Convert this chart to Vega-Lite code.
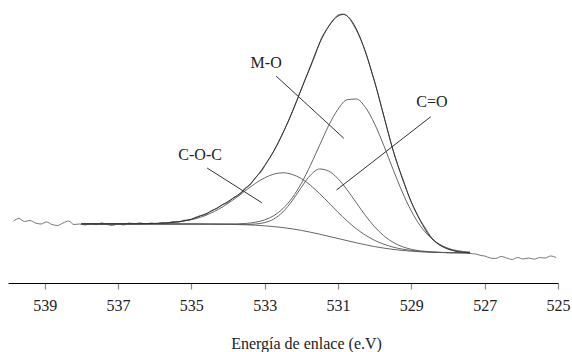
{
  "$schema": "https://vega.github.io/schema/vega-lite/v6.json",
  "width": 550,
  "height": 283,
  "autosize": {"type": "none"},
  "padding": {"left": 8, "top": 0, "right": 14, "bottom": 69},
  "background": "white",
  "config": {"view": {"stroke": null}, "font": "Liberation Serif, Times New Roman, serif"},
  "datasets": {
    "raw": [
      {"be":539.85,"i":62},{"be":539.7,"i":64.5},{"be":539.55,"i":61.5},{"be":539.4,"i":62.5},{"be":539.25,"i":60},{"be":539.1,"i":59},{"be":538.95,"i":61},{"be":538.8,"i":58.5},{"be":538.65,"i":57.5},{"be":538.5,"i":60},{"be":538.35,"i":62},{"be":538.2,"i":58.5},{"be":538.05,"i":59},{"be":537.9,"i":58},{"be":537.75,"i":59.5},{"be":537.6,"i":58.2},{"be":537.45,"i":60},{"be":537.3,"i":58.5},{"be":537.15,"i":57.5},{"be":537.0,"i":59.5},{"be":536.85,"i":58},{"be":536.7,"i":60},{"be":536.55,"i":59.2},{"be":536.4,"i":60.2},{"be":536.25,"i":59},{"be":536.1,"i":60},{"be":535.95,"i":59.2},{"be":535.8,"i":60.5},{"be":535.65,"i":60},{"be":535.5,"i":61.5},{"be":535.35,"i":61},{"be":535.2,"i":62.8},{"be":535.05,"i":63},{"be":534.9,"i":65.5},{"be":534.75,"i":67.5},{"be":534.6,"i":68.5},{"be":534.45,"i":72.5},{"be":534.3,"i":74.5},{"be":534.15,"i":78.5},{"be":534.0,"i":80.5},{"be":533.85,"i":85.5},{"be":533.7,"i":87.5},{"be":533.55,"i":94.5},{"be":533.4,"i":98},{"be":533.25,"i":105.5},{"be":533.1,"i":111},{"be":532.95,"i":120},{"be":532.8,"i":129},{"be":532.65,"i":139},{"be":532.5,"i":150.5},{"be":532.35,"i":162},{"be":532.2,"i":175},{"be":532.05,"i":189},{"be":531.9,"i":203},{"be":531.75,"i":216},{"be":531.6,"i":230},{"be":531.45,"i":245},{"be":531.3,"i":254},{"be":531.15,"i":262},{"be":531.0,"i":268},{"be":530.85,"i":269},{"be":530.7,"i":265},{"be":530.55,"i":256},{"be":530.4,"i":245},{"be":530.25,"i":231},{"be":530.1,"i":213},{"be":529.95,"i":195},{"be":529.8,"i":174},{"be":529.65,"i":153},{"be":529.5,"i":133},{"be":529.35,"i":116},{"be":529.2,"i":101},{"be":529.05,"i":85},{"be":528.9,"i":73},{"be":528.75,"i":62.5},{"be":528.6,"i":54},{"be":528.45,"i":45.5},{"be":528.3,"i":40},{"be":528.15,"i":36.5},{"be":528.0,"i":34},{"be":527.85,"i":32.5},{"be":527.7,"i":31},{"be":527.55,"i":30.5},{"be":527.4,"i":29.5},{"be":527.25,"i":29},{"be":527.1,"i":27.5},{"be":527.0,"i":27},{"be":526.85,"i":25},{"be":526.7,"i":24.5},{"be":526.55,"i":26.5},{"be":526.4,"i":25},{"be":526.25,"i":23.5},{"be":526.1,"i":25.5},{"be":525.95,"i":24},{"be":525.8,"i":25},{"be":525.65,"i":23.8},{"be":525.5,"i":25.5},{"be":525.35,"i":25},{"be":525.2,"i":27},{"be":525.05,"i":25.5}
    ],
    "env": [
      {"be":538,"i":59.2},{"be":537.5,"i":59.2},{"be":537,"i":59.2},{"be":536.5,"i":59.3},{"be":536,"i":59.6},{"be":535.5,"i":60.6},{"be":535.25,"i":61.8},{"be":535,"i":63.8},{"be":534.75,"i":67},{"be":534.5,"i":71},{"be":534.25,"i":76},{"be":534,"i":81.5},{"be":533.75,"i":87.5},{"be":533.5,"i":95},{"be":533.25,"i":105},{"be":533,"i":117.5},{"be":532.75,"i":132},{"be":532.5,"i":150},{"be":532.25,"i":171},{"be":532,"i":194},{"be":531.75,"i":217},{"be":531.5,"i":240},{"be":531.25,"i":257},{"be":531,"i":267},{"be":530.85,"i":268.5},{"be":530.75,"i":267},{"be":530.5,"i":254},{"be":530.25,"i":231},{"be":530,"i":201},{"be":529.75,"i":167},{"be":529.5,"i":133},{"be":529.25,"i":105},{"be":529,"i":81},{"be":528.75,"i":62},{"be":528.5,"i":47},{"be":528.25,"i":38.5},{"be":528,"i":34},{"be":527.75,"i":31.5},{"be":527.4,"i":30.3}
    ],
    "comps": [
      {"s":"bg","be":538,"i":59},{"s":"bg","be":537,"i":59},{"s":"bg","be":536,"i":59},{"s":"bg","be":535,"i":59},{"s":"bg","be":534.5,"i":58.9},{"s":"bg","be":534,"i":58.7},{"s":"bg","be":533.5,"i":58.2},{"s":"bg","be":533,"i":57.2},{"s":"bg","be":532.5,"i":55.4},{"s":"bg","be":532,"i":52.6},{"s":"bg","be":531.5,"i":48.8},{"s":"bg","be":531,"i":44.5},{"s":"bg","be":530.5,"i":40.2},{"s":"bg","be":530,"i":36.4},{"s":"bg","be":529.5,"i":33.6},{"s":"bg","be":529,"i":31.8},{"s":"bg","be":528.5,"i":30.8},{"s":"bg","be":528,"i":30.3},{"s":"bg","be":527.4,"i":30.1},
      {"s":"MO","be":538,"i":59},{"s":"MO","be":536,"i":59},{"s":"MO","be":535,"i":59},{"s":"MO","be":534.5,"i":58.9},{"s":"MO","be":534,"i":59.0},{"s":"MO","be":533.75,"i":59.1},{"s":"MO","be":533.5,"i":59.6},{"s":"MO","be":533.25,"i":60.8},{"s":"MO","be":533,"i":63.1},{"s":"MO","be":532.75,"i":67.4},{"s":"MO","be":532.5,"i":74.5},{"s":"MO","be":532.25,"i":85.1},{"s":"MO","be":532,"i":99.7},{"s":"MO","be":531.75,"i":117.8},{"s":"MO","be":531.5,"i":137.9},{"s":"MO","be":531.25,"i":157.7},{"s":"MO","be":531,"i":173.8},{"s":"MO","be":530.75,"i":183.3},{"s":"MO","be":530.5,"i":184.0},{"s":"MO","be":530.25,"i":175.5},{"s":"MO","be":530,"i":159.0},{"s":"MO","be":529.75,"i":137.4},{"s":"MO","be":529.5,"i":113.8},{"s":"MO","be":529.25,"i":91.3},{"s":"MO","be":529,"i":72.0},{"s":"MO","be":528.75,"i":56.9},{"s":"MO","be":528.5,"i":46.3},{"s":"MO","be":528.25,"i":39.2},{"s":"MO","be":528,"i":34.8},{"s":"MO","be":527.75,"i":32.4},{"s":"MO","be":527.4,"i":30.9},
      {"s":"CO","be":538,"i":59},{"s":"CO","be":536,"i":59},{"s":"CO","be":535,"i":59},{"s":"CO","be":534.5,"i":58.9},{"s":"CO","be":534,"i":58.7},{"s":"CO","be":533.5,"i":58.6},{"s":"CO","be":533.25,"i":59.0},{"s":"CO","be":533,"i":60.4},{"s":"CO","be":532.75,"i":64.0},{"s":"CO","be":532.5,"i":71.2},{"s":"CO","be":532.25,"i":82.2},{"s":"CO","be":532,"i":95.7},{"s":"CO","be":531.75,"i":107.9},{"s":"CO","be":531.5,"i":114.0},{"s":"CO","be":531.25,"i":111.8},{"s":"CO","be":531,"i":104.3},{"s":"CO","be":530.75,"i":93.1},{"s":"CO","be":530.5,"i":80.2},{"s":"CO","be":530.25,"i":67.4},{"s":"CO","be":530,"i":56.1},{"s":"CO","be":529.75,"i":47.2},{"s":"CO","be":529.5,"i":40.7},{"s":"CO","be":529.25,"i":36.4},{"s":"CO","be":529,"i":33.7},{"s":"CO","be":528.75,"i":32.1},{"s":"CO","be":528.5,"i":31.2},{"s":"CO","be":528,"i":30.4},{"s":"CO","be":527.4,"i":30.1},
      {"s":"COC","be":538,"i":59},{"s":"COC","be":537,"i":59},{"s":"COC","be":536.5,"i":59.1},{"s":"COC","be":536,"i":59.4},{"s":"COC","be":535.5,"i":60.5},{"s":"COC","be":535,"i":63.3},{"s":"COC","be":534.75,"i":65.7},{"s":"COC","be":534.5,"i":69.3},{"s":"COC","be":534.25,"i":73.9},{"s":"COC","be":534,"i":79.6},{"s":"COC","be":533.75,"i":86.1},{"s":"COC","be":533.5,"i":93.0},{"s":"COC","be":533.25,"i":99.7},{"s":"COC","be":533,"i":105.2},{"s":"COC","be":532.75,"i":108.9},{"s":"COC","be":532.5,"i":110.2},{"s":"COC","be":532.25,"i":108.6},{"s":"COC","be":532,"i":104.4},{"s":"COC","be":531.75,"i":97.7},{"s":"COC","be":531.5,"i":89.3},{"s":"COC","be":531.25,"i":80.1},{"s":"COC","be":531,"i":70.7},{"s":"COC","be":530.75,"i":62.0},{"s":"COC","be":530.5,"i":54.2},{"s":"COC","be":530.25,"i":47.8},{"s":"COC","be":530,"i":42.6},{"s":"COC","be":529.75,"i":38.8},{"s":"COC","be":529.5,"i":35.9},{"s":"COC","be":529.25,"i":33.9},{"s":"COC","be":529,"i":32.5},{"s":"COC","be":528.75,"i":31.6},{"s":"COC","be":528.5,"i":31.0},{"s":"COC","be":528,"i":30.3},{"s":"COC","be":527.4,"i":30.1}
    ],
    "leaders": [
      {"be":532.69,"i":207,"be2":530.84,"i2":144.7},
      {"be":528.47,"i":166.3,"be2":531.04,"i2":93},
      {"be":534.57,"i":115,"be2":533.08,"i2":80.3}
    ],
    "labels": [
      {"label":"M-O","be":532.96,"i":220},
      {"label":"C=O","be":528.44,"i":181},
      {"label":"C-O-C","be":534.76,"i":128}
    ]
  },
  "encoding": {
    "x": {
      "field": "be", "type": "quantitative",
      "scale": {"domain": [525, 540], "reverse": true, "nice": false, "zero": false},
      "axis": {
        "values": [539, 537, 535, 533, 531, 529, 527, 525],
        "format": "d",
        "title": "Energía de enlace (e.V)",
        "grid": false,
        "domainColor": "#000", "domainWidth": 1.1,
        "tickColor": "#888", "tickSize": 6, "tickWidth": 1.2,
        "labelFont": "Liberation Serif, Times New Roman, serif", "labelFontSize": 16, "labelColor": "#222",
        "labelBaseline": "alphabetic", "labelPadding": 21,
        "labelFlush": false, "labelOverlap": false,
        "titleFont": "Liberation Serif, Times New Roman, serif", "titleFontSize": 16, "titleFontWeight": "normal", "titleColor": "#222",
        "titleX": 298, "titleY": 65, "titleBaseline": "alphabetic", "titleAlign": "center"
      }
    },
    "y": {
      "field": "i", "type": "quantitative",
      "scale": {"domain": [0, 283], "nice": false, "zero": false},
      "axis": null
    }
  },
  "layer": [
    {
      "data": {"name": "raw"},
      "mark": {"type": "line", "color": "#666", "strokeWidth": 0.9, "interpolate": "monotone"}
    },
    {
      "data": {"name": "comps"},
      "mark": {"type": "line", "color": "#555", "strokeWidth": 0.9, "interpolate": "monotone"},
      "encoding": {"detail": {"field": "s", "type": "nominal"}}
    },
    {
      "data": {"name": "env"},
      "mark": {"type": "line", "color": "#333", "strokeWidth": 1.0, "interpolate": "monotone"}
    },
    {
      "data": {"name": "leaders"},
      "mark": {"type": "rule", "color": "#333", "strokeWidth": 1.0},
      "encoding": {"x2": {"field": "be2"}, "y2": {"field": "i2"}}
    },
    {
      "data": {"name": "labels"},
      "mark": {"type": "text", "font": "Liberation Serif, Times New Roman, serif", "fontSize": 16, "color": "#222", "align": "center", "baseline": "middle"},
      "encoding": {"text": {"field": "label", "type": "nominal"}}
    }
  ]
}
